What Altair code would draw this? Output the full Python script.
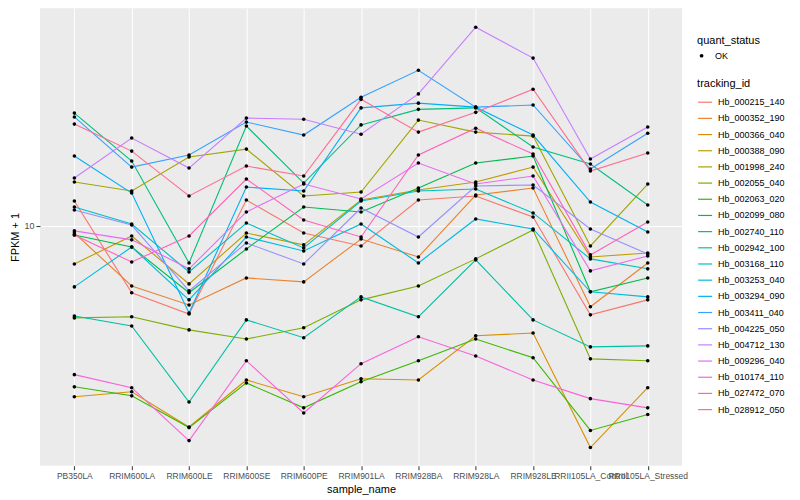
import altair as alt
import pandas as pd

samples = ["PB350LA", "RRIM600LA", "RRIM600LE", "RRIM600SE", "RRIM600PE", "RRIM901LA",
           "RRIM928BA", "RRIM928LA", "RRIM928LE", "RRII105LA_Control", "RRII105LA_Stressed"]

tracking_ids = ["Hb_000215_140", "Hb_000352_190", "Hb_000366_040", "Hb_000388_090",
                "Hb_001998_240", "Hb_002055_040", "Hb_002063_020", "Hb_002099_080",
                "Hb_002740_110", "Hb_002942_100", "Hb_003168_110", "Hb_003253_040",
                "Hb_003294_090", "Hb_003411_040", "Hb_004225_050", "Hb_004712_130",
                "Hb_009296_040", "Hb_010174_110", "Hb_027472_070", "Hb_028912_050"]

colors = ["#F8766D", "#EA8331", "#D89000", "#C09B00", "#A3A500", "#7CAE00", "#39B600",
          "#00BB4E", "#00BF7D", "#00C1A3", "#00BFC4", "#00BAE0", "#00B0F6", "#35A2FF",
          "#9590FF", "#C77CFF", "#E76BF3", "#FA62DB", "#FF62BC", "#FF6C91"]

Hb_000215_140 = [11.73, 6.52, 5.69, 11.81, 9.56, 8.80, 11.81, 12.12, 10.59, 5.66, 6.23]
Hb_000352_190 = [9.56, 6.81, 6.03, 7.17, 6.99, 9.20, 8.20, 12.19, 12.75, 5.96, 7.89]
Hb_000366_040 = [3.35, 3.46, 2.76, 3.73, 3.35, 3.76, 3.73, 4.95, 5.04, 2.42, 3.55]
Hb_000388_090 = [7.84, 9.38, 6.90, 9.56, 8.86, 11.81, 12.59, 13.25, 14.58, 8.20, 8.41]
Hb_001998_240 = [13.25, 12.51, 15.55, 16.36, 12.12, 12.43, 19.70, 18.24, 17.78, 8.80, 13.08]
Hb_002055_040 = [5.55, 5.59, 5.14, 4.85, 5.21, 6.23, 6.81, 8.10, 9.75, 4.27, 4.22]
Hb_002063_020 = [3.57, 3.37, 2.75, 3.66, 3.12, 3.69, 4.22, 4.85, 4.30, 2.70, 2.99]
Hb_002099_080 = [9.44, 8.74, 6.52, 8.63, 11.29, 10.94, 12.75, 14.96, 15.65, 6.56, 7.17]
Hb_002740_110 = [20.6, 15.16, 7.89, 18.96, 13.16, 19.1, 21.1, 21.3, 16.58, 14.87, 11.44]
Hb_002942_100 = [5.62, 5.27, 3.24, 5.48, 4.89, 6.35, 5.59, 8.05, 5.48, 4.61, 4.64]
Hb_003168_110 = [11.29, 10.13, 7.45, 10.19, 8.69, 11.73, 12.51, 12.67, 10.87, 8.10, 7.60]
Hb_003253_040 = [6.77, 8.74, 6.23, 9.32, 8.52, 10.13, 7.89, 10.46, 9.81, 6.56, 6.35]
Hb_003294_090 = [15.65, 12.35, 5.73, 12.83, 12.51, 21.3, 21.96, 21.4, 17.9, 11.66, 9.62]
Hb_003411_040 = [20.1, 14.58, 15.75, 19.45, 17.9, 22.8, 27.1, 21.4, 21.7, 14.4, 18.1]
Hb_004225_050 = [11.08, 10.06, 6.60, 8.97, 7.84, 11.22, 9.32, 12.92, 13.0, 9.81, 8.36]
Hb_004712_130 = [13.59, 17.56, 14.49, 19.95, 19.8, 18.0, 23.3, 35.7, 29.3, 15.35, 18.84]
Hb_009296_040 = [9.69, 9.15, 7.60, 10.94, 13.08, 11.89, 14.96, 13.08, 13.77, 7.50, 8.25]
Hb_010174_110 = [3.86, 3.55, 2.53, 4.22, 3.02, 4.14, 4.92, 4.35, 3.73, 3.31, 3.12]
Hb_027472_070 = [9.44, 7.94, 9.38, 13.51, 10.39, 9.32, 15.75, 18.7, 15.85, 8.31, 10.26]
Hb_028912_050 = [19.2, 16.15, 12.12, 14.68, 13.77, 22.5, 18.24, 20.7, 24.0, 14.22, 15.95]

series = [Hb_000215_140, Hb_000352_190, Hb_000366_040, Hb_000388_090, Hb_001998_240,
          Hb_002055_040, Hb_002063_020, Hb_002099_080, Hb_002740_110, Hb_002942_100,
          Hb_003168_110, Hb_003253_040, Hb_003294_090, Hb_003411_040, Hb_004225_050,
          Hb_004712_130, Hb_009296_040, Hb_010174_110, Hb_027472_070, Hb_028912_050]

rows = []
for tid, vals in zip(tracking_ids, series):
    for i, (s, v) in enumerate(zip(samples, vals)):
        rows.append({"sample_name": s, "idx": i, "tracking_id": tid,
                     "fpkm": v, "quant_status": "OK"})
df = pd.DataFrame(rows)

FONT = "Liberation Sans"

x = alt.X("sample_name:N", sort=samples,
          scale=alt.Scale(type="point", padding=0.6),
          axis=alt.Axis(title="sample_name", labelAngle=0, labelOverlap=False,
                        labelFontSize=8.5, labelColor="#4D4D4D", labelPadding=2,
                        tickSize=4, tickColor="#333333", domain=False,
                        grid=True, gridColor="white", gridWidth=1,
                        titleFontSize=11, titleFontWeight="normal",
                        titleColor="black", titlePadding=3))
y = alt.Y("fpkm:Q",
          scale=alt.Scale(type="log", domain=[2.154, 40.3], nice=False, zero=False),
          axis=alt.Axis(title="FPKM + 1", values=[10], format="d",
                        labelFontSize=9, labelColor="#4D4D4D", labelPadding=2,
                        tickSize=4, tickColor="#333333", domain=False,
                        grid=True, gridColor="white", gridWidth=1,
                        titleFontSize=11, titleFontWeight="normal",
                        titleColor="black", titlePadding=3))

lines = alt.Chart(df).mark_line(strokeWidth=1.1).encode(
    x=x, y=y,
    order=alt.Order("idx:Q"),
    color=alt.Color("tracking_id:N",
                    scale=alt.Scale(domain=tracking_ids, range=colors),
                    legend=alt.Legend(title="tracking_id", orient="none",
                                      legendX=658, legendY=70,
                                      symbolType="stroke", symbolSize=196,
                                      symbolStrokeWidth=1.2, rowPadding=3.2,
                                      labelFontSize=9, labelOffset=5,
                                      titleFontSize=11, titleFontWeight="normal",
                                      titlePadding=5, padding=0)),
)

points = alt.Chart(df).mark_point(filled=True, color="black", size=13, opacity=1).encode(
    x=x, y=y,
    shape=alt.Shape("quant_status:N",
                    scale=alt.Scale(domain=["OK"], range=["circle"]),
                    legend=alt.Legend(title="quant_status", orient="none",
                                      legendX=658, legendY=27,
                                      symbolFillColor="black", symbolStrokeColor="black",
                                      symbolSize=14, labelFontSize=9, labelOffset=9,
                                      titleFontSize=11, titleFontWeight="normal",
                                      titlePadding=5, padding=0)),
)

chart = alt.layer(lines, points).properties(
    width=643, height=458,
    padding={"left": 32, "top": 0, "right": 110, "bottom": 34},
    autosize="none",
).configure(font=FONT).configure_view(fill="#EBEBEB", stroke=None)

chart.save("out.html", embed_options={"renderer": "svg", "actions": False})
